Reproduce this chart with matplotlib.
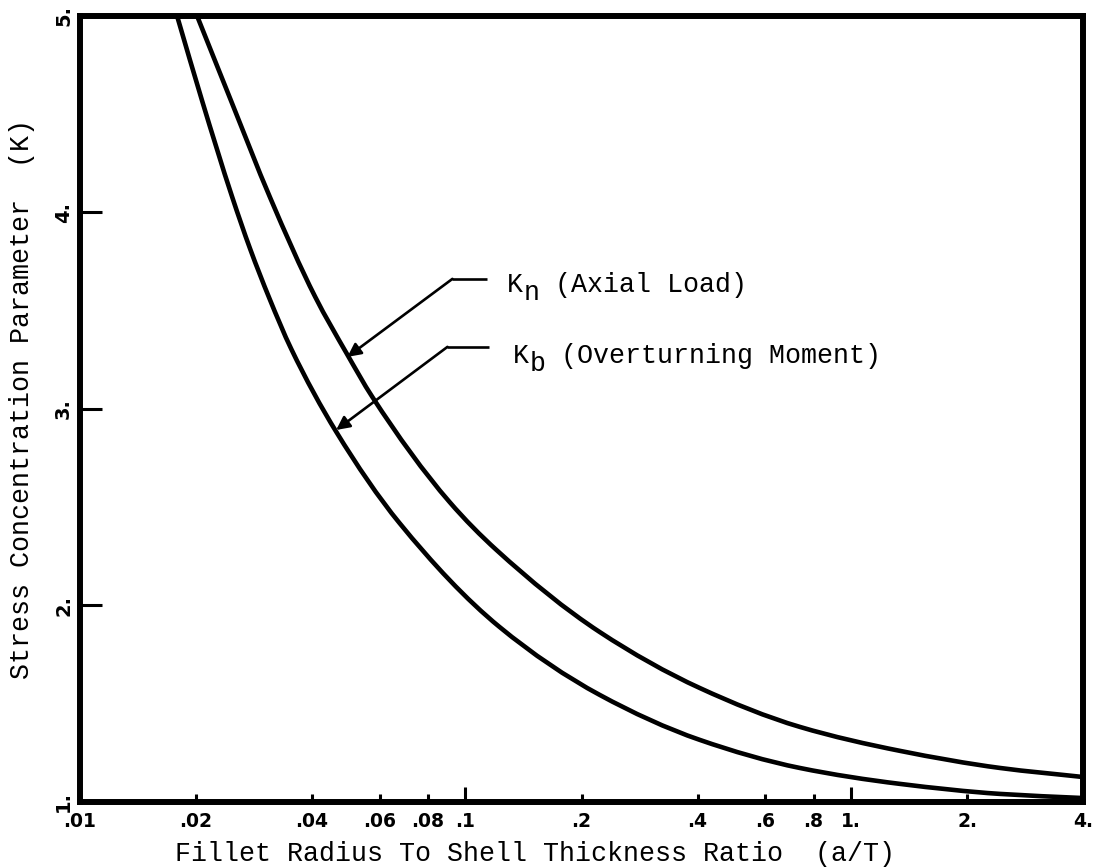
import matplotlib
matplotlib.use("Agg")
import numpy as np
import matplotlib.pyplot as plt
import matplotlib.transforms as mtransforms
from matplotlib.path import Path
from matplotlib.patches import PathPatch
from matplotlib.ticker import FixedLocator, FixedFormatter, NullLocator

# ---------------- data ----------------
kb_x = [0.01786, 0.02075, 0.02482, 0.02764, 0.03097, 0.03533, 0.04624, 0.0674,
        0.1225, 0.2229, 0.4053, 0.7372, 1.341, 2.438, 4.0]
kb_y = [5.0, 4.567, 4.079, 3.814, 3.565, 3.305, 2.883, 2.420,
        1.891, 1.545, 1.316, 1.173, 1.092, 1.041, 1.020]

kn_x = [0.02013, 0.02467, 0.03116, 0.04077, 0.0491, 0.05734, 0.0909,
        0.1204, 0.2229, 0.4053, 0.7372, 1.341, 2.438, 4.0]
kn_y = [5.0, 4.567, 4.074, 3.570, 3.285, 3.061, 2.527,
        2.282, 1.865, 1.580, 1.382, 1.260, 1.173, 1.127]

x_major = [0.1, 1.0]
x_major_labels = [".1", "1."]
x_minor = [0.01, 0.02, 0.04, 0.06, 0.08, 0.2, 0.4, 0.6, 0.8, 2.0, 4.0]
x_minor_labels = [".01", ".02", ".04", ".06", ".08", ".2", ".4", ".6", ".8", "2.", "4."]
y_ticks = [1, 2, 3, 4, 5]
y_tick_labels = ["1.", "2.", "3.", "4.", "5."]

x_label = "Fillet Radius To Shell Thickness Ratio  (a/T)"
y_label = "Stress Concentration Parameter  (K)"
# label pieces: symbol, subscript letter, description
kn_parts = ("K", "n", "(Axial Load)")
kb_parts = ("K", "b", "(Overturning Moment)")

# annotation anchor points (data coordinates)
kn_tip, kn_elbow, kn_end, kn_text = (0.0494, 3.265), (0.0925, 3.662), (0.1134, 3.662), (0.1278, 3.595)
kb_tip, kb_elbow, kb_end, kb_text = (0.0462, 2.893), (0.0898, 3.316), (0.1154, 3.316), (0.1325, 3.234)


def smooth_curve_path(xs, ys):
    """Smooth monotone cubic (Fritsch-Butland Hermite drawn as Bezier segments)
    through the given points, built in log10(x) space to match the log axis."""
    u = np.log10(np.asarray(xs, float))
    y = np.asarray(ys, float)
    h = np.diff(u)
    d = np.diff(y) / h
    n = len(u)
    m = np.zeros(n)
    m[0], m[-1] = d[0], d[-1]
    for i in range(1, n - 1):
        if d[i - 1] * d[i] > 0:
            w1 = 2 * h[i] + h[i - 1]
            w2 = h[i] + 2 * h[i - 1]
            m[i] = (w1 + w2) / (w1 / d[i - 1] + w2 / d[i])
    verts = [(u[0], y[0])]
    codes = [Path.MOVETO]
    for i in range(n - 1):
        verts += [(u[i] + h[i] / 3, y[i] + m[i] * h[i] / 3),
                  (u[i + 1] - h[i] / 3, y[i + 1] - m[i + 1] * h[i] / 3),
                  (u[i + 1], y[i + 1])]
        codes += [Path.CURVE4] * 3
    V = np.array(verts)
    V[:, 0] = 10 ** V[:, 0]
    return Path(V, codes)


# ---------------- figure ----------------
plt.rcParams["font.family"] = ["DejaVu Sans"]
plt.rcParams["font.weight"] = "bold"

fig = plt.figure(figsize=(10.94, 8.67), dpi=100)
ax = fig.add_axes([0.0731, 0.0750, 0.9169, 0.9066])
ax.set_xscale("log")
ax.set_xlim(0.01, 4.0)
ax.set_ylim(1, 5)

for xs, ys in [(kn_x, kn_y), (kb_x, kb_y)]:
    ax.add_patch(PathPatch(smooth_curve_path(xs, ys), facecolor="none",
                           edgecolor="black", lw=3.3, capstyle="butt"))

for s in ax.spines.values():
    s.set_linewidth(4.3)

ax.xaxis.set_major_locator(FixedLocator(x_major))
ax.xaxis.set_major_formatter(FixedFormatter(x_major_labels))
ax.xaxis.set_minor_locator(FixedLocator(x_minor))
ax.xaxis.set_minor_formatter(FixedFormatter(x_minor_labels))
ax.set_yticks(y_ticks)
ax.set_yticklabels(y_tick_labels, rotation=90, va="center")
ax.yaxis.set_minor_locator(NullLocator())

ax.tick_params(axis="x", which="major", direction="in", length=11, width=2.2,
               pad=7, labelsize=13.5)
ax.tick_params(axis="x", which="minor", direction="in", length=6, width=2.2,
               pad=7, labelsize=13.5)
ax.tick_params(axis="y", which="major", direction="in", length=16, width=2.2,
               pad=5, labelsize=14)

fs = 19.2
char_w = fs * 100 / 72 * 0.6  # monospace advance in pixels
txt_font = dict(family="Liberation Mono", fontweight="normal", fontsize=fs, color="black")

fig.text(535 / 1094, 1 - 861 / 867, x_label, ha="center", va="baseline", **txt_font)
fig.text(22 / 1094, 1 - 399 / 867, y_label, ha="center", va="center", rotation=90, **txt_font)

sub_trans = mtransforms.offset_copy(ax.transData, fig=fig, x=char_w * 1.05, y=-8, units="dots")
rest_trans = mtransforms.offset_copy(ax.transData, fig=fig, x=char_w * 3, y=0, units="dots")

# leaders and labels
for tip, elbow, end, parts, tpos in [(kn_tip, kn_elbow, kn_end, kn_parts, kn_text),
                                     (kb_tip, kb_elbow, kb_end, kb_parts, kb_text)]:
    ax.plot([elbow[0], end[0]], [elbow[1], end[1]], color="black", lw=1.9,
            solid_capstyle="butt")
    ax.annotate("", xy=tip, xytext=elbow,
                arrowprops=dict(arrowstyle="-|>", color="black", lw=1.9,
                                mutation_scale=20, shrinkA=0, shrinkB=0))
    ax.text(tpos[0], tpos[1], parts[0], ha="left", va="baseline", **txt_font)
    ax.text(tpos[0], tpos[1], parts[1], ha="left", va="baseline",
            transform=sub_trans, **txt_font)
    ax.text(tpos[0], tpos[1], parts[2], ha="left", va="baseline",
            transform=rest_trans, **txt_font)

fig.savefig("out.png", dpi=100)
